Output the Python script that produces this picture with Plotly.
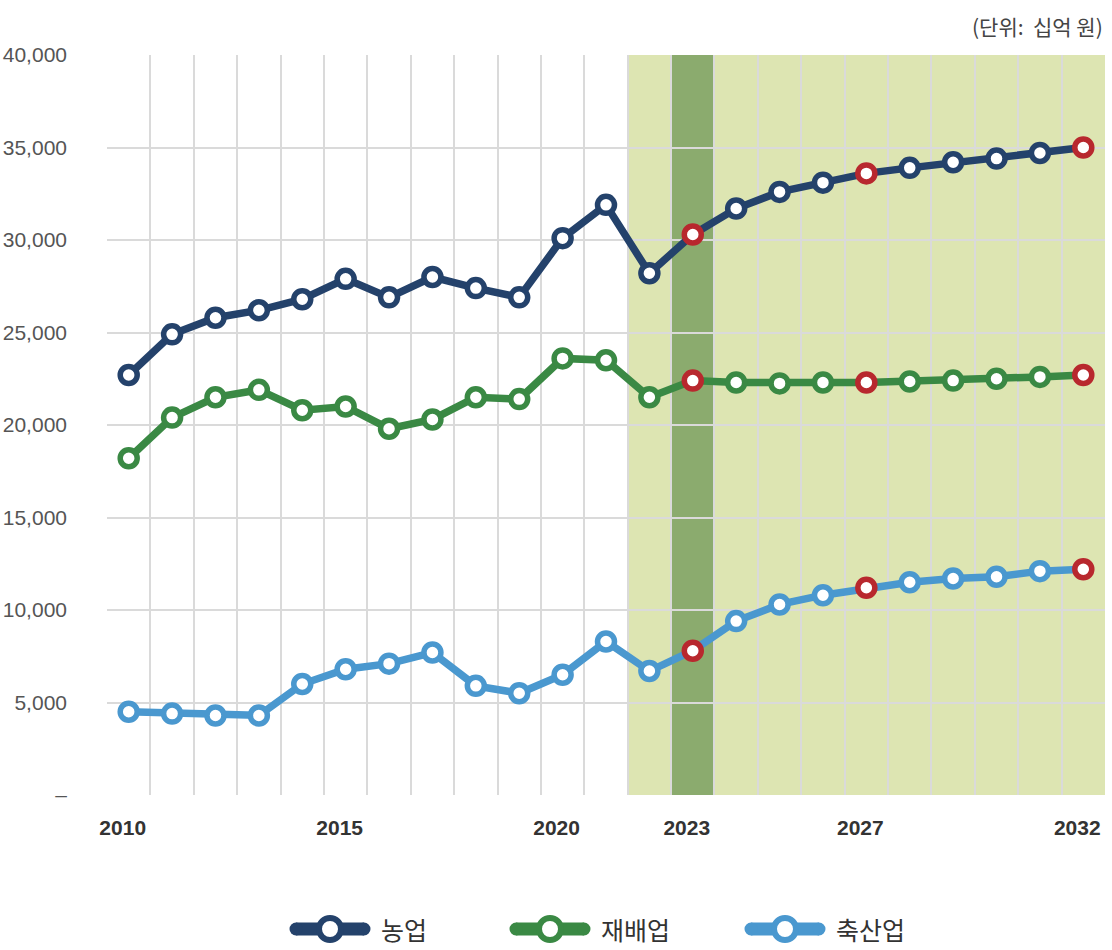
import plotly.graph_objects as go

years = list(range(2010, 2033))
agri = [22700, 24900, 25800, 26200, 26800, 27900, 26900, 28000, 27400, 26900, 30100, 31900,
        28200, 30300, 31700, 32600, 33100, 33600, 33900, 34200, 34400, 34700, 35000]
crop = [18200, 20400, 21500, 21900, 20800, 21000, 19800, 20300, 21500, 21400, 23600, 23500,
        21500, 22400, 22300, 22250, 22300, 22300, 22350, 22400, 22500, 22600, 22700]
livestock = [4500, 4400, 4300, 4300, 6000, 6800, 7100, 7700, 5900, 5500, 6500, 8300,
             6700, 7800, 9400, 10300, 10800, 11200, 11500, 11700, 11800, 12100, 12200]
series_names = ["농업", "재배업", "축산업"]
series_colors = ["#24426b", "#3a8944", "#4a98cf"]
highlight_years = [2023, 2027, 2032]
x_tick_vals = [2010, 2015, 2020, 2023, 2027, 2032]
y_tick_vals = [0, 5000, 10000, 15000, 20000, 25000, 30000, 35000, 40000]
y_tick_text = ["–", "5,000", "10,000", "15,000", "20,000", "25,000", "30,000", "35,000", "40,000"]
forecast_start, forecast_end = 2022, 2032
base_year = 2023

W, H = 1112, 950
ML, MR, MT, MB = 107, 7, 55, 155
PW, PH = W - ML - MR, H - MT - MB

HL = "#b8282e"
fig = go.Figure()
for name, vals, col in zip(series_names, [agri, crop, livestock], series_colors):
    mcols = [HL if y in highlight_years else col for y in years]
    fig.add_trace(go.Scatter(
        x=years, y=vals, name=name, mode="lines+markers",
        line=dict(color=col, width=7.5),
        marker=dict(size=17, color="white", line=dict(color=mcols, width=5.5)),
        showlegend=False,
    ))

fig.add_shape(type="rect", xref="x", yref="y", x0=forecast_start - 0.5, x1=forecast_end + 0.5,
              y0=0, y1=40000, fillcolor="#dde5b2", line_width=0, layer="below")
fig.add_shape(type="rect", xref="x", yref="y", x0=base_year - 0.5, x1=base_year + 0.5,
              y0=0, y1=40000, fillcolor="#8bab6e", line_width=0, layer="below")

# custom legend (symbol centres in figure pixels)
legend_centres = [330, 550, 785]
legend_y = (MT + PH - 929) / PH
for name, col, cx in zip(series_names, series_colors, legend_centres):
    xp = (cx - ML) / PW
    common = dict(xref="paper", yref="paper", xsizemode="pixel", ysizemode="pixel",
                  xanchor=xp, yanchor=legend_y)
    fig.add_shape(type="path", path="M-34,0 L34,0", line=dict(color=col, width=13), **common)
    for ex in (-34, 34):
        fig.add_shape(type="circle", x0=ex - 6.5, x1=ex + 6.5, y0=-6.5, y1=6.5,
                      fillcolor=col, line_width=0, **common)
    fig.add_shape(type="circle", x0=-11, x1=11, y0=-11, y1=11,
                  fillcolor="white", line=dict(color=col, width=6), **common)
    fig.add_annotation(text=name, xref="paper", yref="paper", x=xp, y=legend_y,
                       xanchor="left", yanchor="middle", xshift=49, showarrow=False,
                       font=dict(size=25, family="Noto Sans CJK KR", color="#333333"))

fig.add_annotation(text="(단위:  십억 원)", xref="paper", yref="paper", x=1.0, y=1.0,
                   xanchor="right", yanchor="bottom", yshift=12, showarrow=False,
                   font=dict(size=21, color="#444444", family="Noto Sans CJK KR"))

fig.update_layout(
    width=W, height=H,
    margin=dict(l=ML, r=MR, t=MT, b=MB, autoexpand=False),
    plot_bgcolor="white", paper_bgcolor="white",
    font=dict(family="Liberation Sans, Noto Sans CJK KR", color="#444444"),
    showlegend=False,
    xaxis=dict(range=[2009.5, 2032.5], tickvals=x_tick_vals, ticktext=[str(v) for v in x_tick_vals],
               showgrid=False, zeroline=False, showline=False, automargin=False,
               tickfont=dict(size=21, color="#333333", family="Liberation Sans, Arial, sans-serif", weight="bold"),
               ticks="", ticklabelstandoff=18, ticklabelshift=-6,
               minor=dict(tick0=2009.5, dtick=1, showgrid=True, gridcolor="#dadada", gridwidth=2, ticks="")),
    yaxis=dict(range=[0, 40000], tickvals=y_tick_vals, ticktext=y_tick_text,
               showgrid=True, gridcolor="#dadada", gridwidth=2, zeroline=False, showline=False,
               automargin=False,
               tickfont=dict(size=21, color="#555555", family="Liberation Sans, Arial, sans-serif"),
               ticks="", ticklabelstandoff=39),
)

fig.write_html("out.html", config={"displayModeBar": False},
               post_script="document.body.style.margin='0';document.body.style.overflow='hidden';")
